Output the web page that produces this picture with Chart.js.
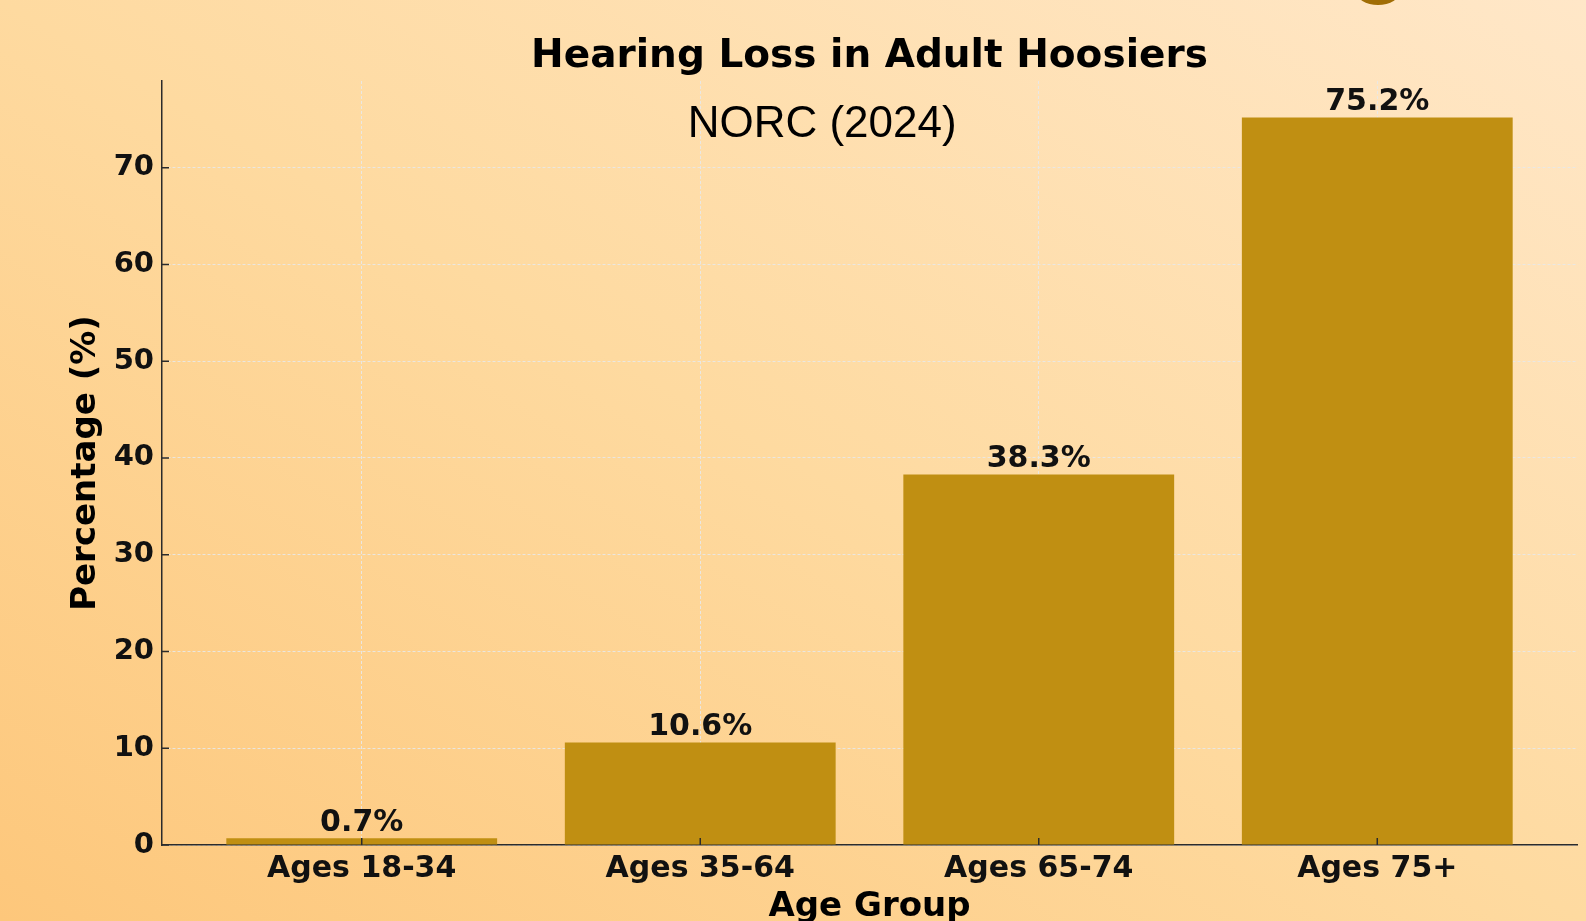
<!DOCTYPE html>
<html>
<head>
<meta charset="utf-8">
<title>Hearing Loss in Adult Hoosiers</title>
<script src="https://cdn.jsdelivr.net/npm/chart.js@4"></script>
<style>
    html, body {
        margin: 0;
        padding: 0;
        overflow: hidden;
    }
    body {
        width: 1586px;
        height: 921px;
        background: linear-gradient(to top right, #fdc77b 0%, #fedaa0 50%, #ffe7c8 100%);
    }
    canvas {
        display: block;
    }
</style>
</head>
<body>
<canvas id="graficoPerda" width="1586" height="921"></canvas>
<script>
// Dados do gráfico
const faixasEtarias = ['Ages 18-34', 'Ages 35-64', 'Ages 65-74', 'Ages 75+'];
const percentuais = [0.7, 10.6, 38.3, 75.2];
const ticksY = [0, 10, 20, 30, 40, 50, 60, 70];

const fonteBase = "'DejaVu Sans', sans-serif";
const corEixo = '#2b2b2b';
const corGrade = 'rgba(232, 232, 232, 0.9)';

// Rótulos de valor, subtítulo e marcas internas dos eixos
const pluginExtras = {
    id: 'extras',
    afterDraw(chart) {
        const ctx = chart.ctx;
        const escalaX = chart.scales.x;
        const escalaY = chart.scales.y;
        const area = chart.chartArea;

        ctx.save();

        // marcas dos ticks voltadas para dentro
        ctx.strokeStyle = corEixo;
        ctx.lineWidth = 1.5;
        ctx.beginPath();
        escalaY.ticks.forEach(t => {
            const y = escalaY.getPixelForValue(t.value);
            ctx.moveTo(area.left, y);
            ctx.lineTo(area.left + 7, y);
        });
        escalaX.ticks.forEach(t => {
            const x = escalaX.getPixelForValue(t.value);
            ctx.moveTo(x, area.bottom);
            ctx.lineTo(x, area.bottom - 7);
        });
        ctx.stroke();

        // valores acima das barras
        ctx.fillStyle = '#111111';
        ctx.font = "bold 30px " + fonteBase;
        ctx.textAlign = 'center';
        ctx.textBaseline = 'alphabetic';
        chart.getDatasetMeta(0).data.forEach((barra, i) => {
            ctx.fillText(percentuais[i].toFixed(1) + '%', barra.x, barra.y - 7);
        });

        // subtítulo dentro da área do gráfico
        ctx.fillStyle = '#000000';
        ctx.font = "44px 'Liberation Sans', Arial, sans-serif";
        ctx.fillText('NORC (2024)', escalaX.getPixelForValue(1.36), escalaY.getPixelForValue(73.2));

        // pedaço do logotipo cortado no topo
        ctx.fillStyle = '#a06d05';
        ctx.beginPath();
        ctx.ellipse(1378, -9, 22, 14, 0, 0, Math.PI * 2);
        ctx.fill();

        ctx.restore();
    }
};

const ctx = document.getElementById('graficoPerda').getContext('2d');
const graficoPerda = new Chart(ctx, {
    type: 'bar',
    data: {
        datasets: [{
            label: 'Percentage (%)',
            data: faixasEtarias.map((faixa, i) => ({ x: i, y: percentuais[i] })),
            backgroundColor: '#c08f12',
            borderWidth: 0,
            barPercentage: 0.8,
            categoryPercentage: 1.0
        }]
    },
    options: {
        responsive: false,
        animation: false,
        devicePixelRatio: 1,
        layout: {
            padding: { top: 0, right: 9, bottom: 0, left: 0 }
        },
        plugins: {
            legend: { display: false },
            tooltip: { enabled: false },
            title: {
                display: true,
                text: 'Hearing Loss in Adult Hoosiers',
                color: '#000000',
                fullSize: false,
                font: { family: fonteBase, size: 39, weight: 'bold', lineHeight: 1.2 },
                padding: { top: 33, bottom: 1.2 }
            }
        },
        scales: {
            x: {
                type: 'linear',
                min: -0.59,
                max: 3.59,
                offset: false,
                z: 1,
                afterBuildTicks: escala => {
                    escala.ticks = faixasEtarias.map((f, i) => ({ value: i }));
                },
                afterFit: escala => { escala.height = 76; },
                ticks: {
                    color: '#111111',
                    font: { family: fonteBase, size: 30, weight: 'bold' },
                    padding: 6,
                    maxRotation: 0,
                    autoSkip: false,
                    callback: valor => faixasEtarias[valor]
                },
                grid: {
                    color: corGrade,
                    lineWidth: 1,
                    offset: false,
                    drawTicks: false
                },
                border: {
                    color: corEixo,
                    width: 1.5,
                    dash: [3, 2]
                },
                title: {
                    display: true,
                    text: 'Age Group',
                    color: '#000000',
                    font: { family: fonteBase, size: 34, weight: 'bold', lineHeight: 0.8 },
                    padding: { top: 0, bottom: 0 }
                }
            },
            y: {
                type: 'linear',
                min: 0,
                max: 78.96,
                z: 1,
                afterBuildTicks: escala => {
                    escala.ticks = ticksY.map(v => ({ value: v }));
                },
                afterFit: escala => { escala.width = 162; },
                ticks: {
                    color: '#111111',
                    font: { family: fonteBase, size: 29, weight: 'bold' },
                    padding: 8
                },
                grid: {
                    color: corGrade,
                    lineWidth: 1,
                    drawTicks: false
                },
                border: {
                    color: corEixo,
                    width: 1.5,
                    dash: [3, 2]
                },
                title: {
                    display: true,
                    text: 'Percentage (%)',
                    color: '#000000',
                    font: { family: fonteBase, size: 34, weight: 'bold', lineHeight: 1 },
                    padding: { top: 69, bottom: 0 }
                }
            }
        }
    },
    plugins: [pluginExtras]
});
</script>
</body>
</html>
